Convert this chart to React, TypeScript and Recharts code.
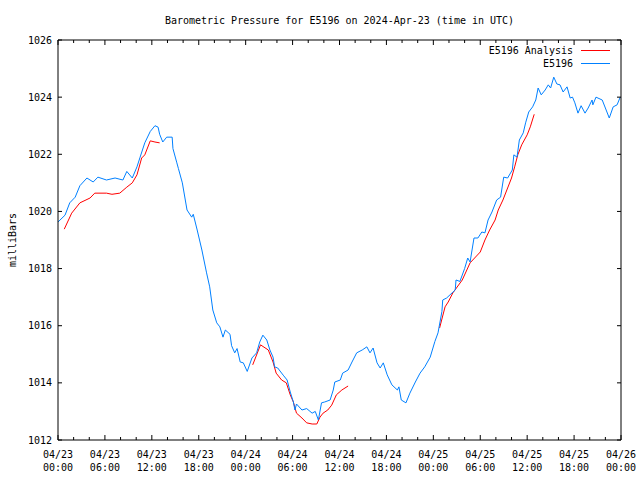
import { LineChart, Line, XAxis, YAxis, Legend } from "recharts";

// hours since 2024-04-23 00:00 UTC
const stationHours = [
  0, 0.9, 1.5, 2.2, 2.8, 3.7, 4.5, 5.1, 6.2, 7.3, 8.3, 8.8, 9.5, 10.1, 10.5, 11.1, 11.8, 12.4, 12.8, 13.0,
  13.4, 13.9, 14.6, 14.7, 15.2, 15.4, 15.9, 16.5, 17.1, 17.3, 17.8, 18.4, 19.0, 19.4, 19.8, 20.3, 20.7, 21.1,
  21.4, 22.0, 22.2, 22.6, 22.9, 23.3, 23.7, 24.2, 24.8, 25.4, 25.8, 26.2, 26.7, 27.1, 27.5, 27.7, 28.1, 28.8,
  29.3, 29.7, 30.1, 30.3, 30.5, 31.2, 31.8, 32.5, 32.9, 33.3, 33.7, 34.1, 34.8, 35.2, 35.4, 36.1, 36.4, 37.1,
  37.6, 38.2, 38.9, 39.5, 39.9, 40.3, 40.8, 41.2, 41.6, 42.1, 42.7, 43.4, 43.6, 43.9, 44.5, 45.0, 45.7, 46.3,
  46.9, 47.6, 48.2, 48.6, 49.1, 49.2, 49.7, 50.4, 50.8, 50.9, 51.4, 52.0, 52.4, 52.7, 53.2, 53.7, 54.2, 54.6,
  55.0, 55.5, 56.1, 56.6, 57.0, 57.5, 58.1, 58.3, 58.7, 59.0, 59.5, 59.8, 60.2, 60.7, 61.1, 61.4, 61.8, 62.3,
  62.7, 63.0, 63.4, 63.8, 64.2, 64.6, 65.1, 65.5, 65.8, 66.1, 66.5, 66.9, 67.4, 67.8, 68.3, 68.4, 68.8, 69.6,
  70.0, 70.5, 71.0, 71.5, 71.9,
];
const stationPressure = [
  1019.63, 1019.87, 1020.3, 1020.5, 1020.9, 1021.17, 1021.03, 1021.2, 1021.1, 1021.17, 1021.1, 1021.4, 1021.17, 1021.56, 1021.9, 1022.4, 1022.8, 1023.0, 1022.95, 1022.7,
  1022.43, 1022.6, 1022.6, 1022.2, 1021.7, 1021.5, 1021.0, 1020.05, 1019.8, 1019.9, 1019.35, 1018.65, 1017.85, 1017.36, 1016.55, 1016.1, 1015.96, 1015.6,
  1015.85, 1015.7, 1015.3, 1015.05, 1015.2, 1014.73, 1014.7, 1014.4, 1014.87, 1015.05, 1015.43, 1015.67, 1015.5, 1015.15, 1014.9, 1014.56, 1014.52, 1014.27,
  1014.1, 1013.68, 1013.33, 1013.05, 1013.26, 1013.05, 1013.1, 1012.94, 1013.0, 1012.7, 1013.3, 1013.33, 1013.4, 1013.75, 1014.03, 1014.1, 1014.34, 1014.45,
  1014.73, 1015.05, 1015.15, 1015.26, 1015.05, 1015.22, 1014.7, 1014.52, 1014.7, 1014.28, 1013.93, 1013.75, 1013.86, 1013.4, 1013.3, 1013.64, 1014.03, 1014.34,
  1014.56, 1014.9, 1015.45, 1015.75, 1016.5, 1016.9, 1016.97, 1017.15, 1017.25, 1017.6, 1017.55, 1018.0, 1018.37, 1018.23, 1019.07, 1019.07, 1019.28, 1019.25,
  1019.7, 1019.98, 1020.4, 1020.5, 1021.2, 1021.17, 1021.45, 1021.98, 1021.9, 1022.5, 1022.75, 1023.1, 1023.48, 1023.66, 1023.9, 1024.32, 1024.08, 1024.25,
  1024.43, 1024.32, 1024.7, 1024.46, 1024.43, 1024.18, 1024.36, 1023.97, 1024.0, 1023.8, 1023.44, 1023.7, 1023.44, 1023.62, 1023.9, 1023.73, 1024.0, 1023.9,
  1023.62, 1023.27, 1023.66, 1023.73, 1024.0,
];

// analysis has gaps (null) where no values were produced
const analysisHours = [
  0.8, 1.75, 2.8, 4.1, 4.7, 6.2, 6.9, 7.9, 8.8, 9.5, 10.1, 10.7, 11.1, 11.8, 12.4, 13.0,
  19.0,
  24.9, 25.9, 26.9, 27.5, 27.9, 28.6, 29.2, 29.7, 30.1, 30.5, 31.2, 31.8, 32.5, 33.1, 33.5, 33.9, 34.5, 35.0, 35.6, 36.3, 37.1,
  43.0,
  48.8, 49.5, 49.9, 50.5, 51.7, 52.7, 54.0, 54.6, 55.2, 55.9, 56.3, 56.9, 57.4, 58.0, 58.4, 58.8, 59.3, 60.0, 60.4, 60.9,
];
const analysisPressure = [
  1019.38, 1019.94, 1020.3, 1020.47, 1020.64, 1020.64, 1020.6, 1020.64, 1020.85, 1021.0, 1021.28, 1021.87, 1021.98, 1022.47, 1022.43, 1022.4,
  null,
  1014.63, 1015.33, 1015.15, 1014.73, 1014.34, 1014.1, 1014.0, 1013.58, 1013.33, 1012.94, 1012.77, 1012.6, 1012.56, 1012.56, 1012.8, 1012.94, 1013.05, 1013.22, 1013.58, 1013.75, 1013.89,
  null,
  1015.92, 1016.66, 1016.83, 1017.15, 1017.6, 1018.2, 1018.58, 1019.0, 1019.35, 1019.7, 1020.05, 1020.4, 1020.75, 1021.17, 1021.56, 1021.98, 1022.33, 1022.68, 1022.96, 1023.4,
];

const legendOrder = ["E5196 Analysis", "E5196"];
const xTicks = Array.from({ length: 37 }, (_, i) => i * 2);
const yTicks = [1012, 1014, 1016, 1018, 1020, 1022, 1024, 1026];

const stationData = stationHours.map((t, i) => ({ t, p: stationPressure[i] }));
const analysisData = analysisHours.map((t, i) => ({ t, p: analysisPressure[i] }));

const FONT = "'DejaVu Sans Mono', monospace";
const RED = "#ff0000";
const BLUE = "#0080ff";

const dayLabel = (h: number) => `04/${23 + Math.floor(h / 24)}`;
const timeLabel = (h: number) => `${String(h % 24).padStart(2, "0")}:00`;

const BottomTick = ({ x, y, payload }: any) => {
  const h = payload.value;
  const major = h % 6 === 0;
  return (
    <g>
      <line x1={x} x2={x} y1={y} y2={y - (major ? 5 : 3)} stroke="#000" />
      {major && (
        <text x={x} textAnchor="middle" fontFamily={FONT} fontSize={10} fill="#000">
          <tspan x={x} y={y + 17.5}>{dayLabel(h)}</tspan>
          <tspan x={x} y={y + 30.5}>{timeLabel(h)}</tspan>
        </text>
      )}
    </g>
  );
};

const TopTick = ({ x, y, payload }: any) => {
  const major = payload.value % 6 === 0;
  return <line x1={x} x2={x} y1={y} y2={y + (major ? 5 : 3)} stroke="#000" />;
};

const LeftTick = ({ x, y, payload }: any) => (
  <g>
    <line x1={x} x2={x + 4} y1={y} y2={y} stroke="#000" />
    <text x={x - 6} y={y + 3.5} textAnchor="end" fontFamily={FONT} fontSize={10} fill="#000">
      {payload.value}
    </text>
  </g>
);

const RightTick = ({ x, y }: any) => <line x1={x} x2={x - 4} y1={y} y2={y} stroke="#000" />;

const LegendBox = ({ payload }: any) => {
  const items = [...(payload || [])].sort(
    (a: any, b: any) => legendOrder.indexOf(a.value) - legendOrder.indexOf(b.value)
  );
  return (
    <svg width={180} height={30}>
      {items.map((item: any, i: number) => (
        <g key={item.value}>
          <text x={133} y={8 + i * 13 + 3.5} textAnchor="end" fontFamily={FONT} fontSize={10} fill="#000">
            {item.value}
          </text>
          <line x1={141} x2={170} y1={8.5 + i * 13} y2={8.5 + i * 13} stroke={item.color} strokeWidth={1} />
        </g>
      ))}
    </svg>
  );
};

export default function App() {
  return (
    <div style={{ position: "absolute", left: 0, top: 0, width: 640, height: 480, background: "#fff" }}>
      <LineChart width={640} height={480} margin={{ top: 39, right: 18, bottom: 0, left: 0 }}>
        <XAxis
          dataKey="t"
          type="number"
          domain={[0, 72]}
          ticks={xTicks}
          interval={0}
          allowDataOverflow
          height={40}
          stroke="#000"
          tickSize={0}
          tickMargin={0}
          tick={<BottomTick />}
        />
        <XAxis
          xAxisId="top"
          dataKey="t"
          orientation="top"
          type="number"
          domain={[0, 72]}
          ticks={xTicks}
          interval={0}
          allowDataOverflow
          height={1}
          stroke="#000"
          tickSize={0}
          tickMargin={0}
          tick={<TopTick />}
        />
        <YAxis
          type="number"
          domain={[1012, 1026]}
          ticks={yTicks}
          interval={0}
          allowDataOverflow
          width={58}
          stroke="#000"
          tickSize={0}
          tickMargin={0}
          tick={<LeftTick />}
        />
        <YAxis
          yAxisId="right"
          orientation="right"
          type="number"
          domain={[1012, 1026]}
          ticks={yTicks}
          interval={0}
          allowDataOverflow
          width={1}
          stroke="#000"
          tickSize={0}
          tickMargin={0}
          tick={<RightTick />}
        />
        <Legend
          layout="horizontal"
          verticalAlign="middle"
          align="center"
          content={<LegendBox />}
          wrapperStyle={{ position: "absolute", top: 42, left: 440, width: 180, height: 30 }}
        />
        <Line
          data={analysisData}
          dataKey="p"
          name="E5196 Analysis"
          type="linear"
          stroke={RED}
          strokeWidth={1}
          dot={false}
          activeDot={false}
          connectNulls={false}
          isAnimationActive={false}
        />
        <Line
          data={stationData}
          xAxisId="top"
          yAxisId="right"
          dataKey="p"
          name="E5196"
          type="linear"
          stroke={BLUE}
          strokeWidth={1}
          dot={false}
          activeDot={false}
          isAnimationActive={false}
        />
      </LineChart>
      <svg width={640} height={480} style={{ position: "absolute", left: 0, top: 0, pointerEvents: "none" }}>
        <text x={339.5} y={23.5} textAnchor="middle" fontFamily={FONT} fontSize={10} fill="#000">
          Barometric Pressure for E5196 on 2024-Apr-23 (time in UTC)
        </text>
        <text
          x={0}
          y={0}
          transform="translate(15.5,240) rotate(-90)"
          textAnchor="middle"
          fontFamily={FONT}
          fontSize={10}
          fill="#000"
        >
          milliBars
        </text>
      </svg>
    </div>
  );
}
